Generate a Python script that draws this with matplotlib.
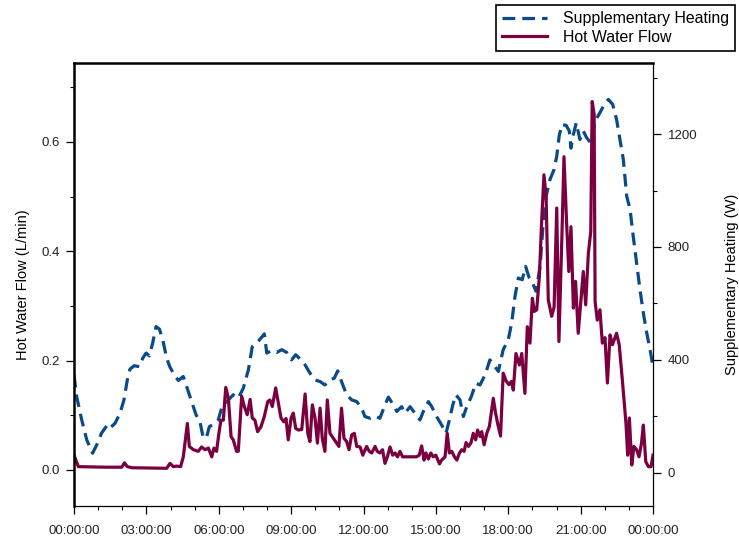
import matplotlib
matplotlib.use("Agg")
import matplotlib.pyplot as plt
from matplotlib.ticker import MultipleLocator, FixedLocator

plt.rcParams['font.family'] = ['Liberation Sans', 'DejaVu Sans']

# Supplementary heating power (W) over the day, hours since midnight
heating_hours = [0, 0.11, 0.32, 0.53, 0.77, 0.94, 1.14, 1.38, 1.49, 1.70, 1.91, 2.07, 2.21, 2.32,
                 2.49, 2.71, 2.85, 2.99, 3.12, 3.26, 3.40, 3.54, 3.68, 3.84, 3.98, 4.19, 4.33, 4.53,
                 4.67, 4.88, 5.06, 5.22, 5.36, 5.50, 5.61, 5.80, 5.98, 6.12, 6.40, 6.60, 6.81, 7.02,
                 7.23, 7.39, 7.57, 7.75, 7.89, 7.99, 8.19, 8.40, 8.61, 8.82, 9.02, 9.19, 9.41, 9.58,
                 9.78, 9.99, 10.20, 10.40, 10.61, 10.79, 10.93, 11.09, 11.30, 11.51, 11.72, 11.92,
                 12.06, 12.27, 12.48, 12.68, 12.89, 13.03, 13.24, 13.38, 13.58, 13.72, 13.93, 14.13,
                 14.34, 14.48, 14.69, 14.83, 15.03, 15.24, 15.42, 15.56, 15.70, 15.83, 16.00, 16.14,
                 16.28, 16.46, 16.66, 16.83, 17.04, 17.24, 17.45, 17.59, 17.79, 18.00, 18.14, 18.28,
                 18.42, 18.58, 18.72, 18.87, 19.01, 19.15, 19.32, 19.43, 19.57, 19.73, 19.90, 20.01,
                 20.11, 20.22, 20.40, 20.53, 20.60, 20.70, 20.82, 20.97, 21.11, 21.25, 21.42, 21.60,
                 21.80, 21.98, 22.15, 22.33, 22.49, 22.63, 22.77, 22.91, 23.05, 23.18, 23.32, 23.46,
                 23.60, 23.74, 23.88, 24.0]
heating_watts = [347, 270, 187, 116, 69, 98, 140, 169, 158, 175, 211, 258, 329, 367,
                 379, 376, 406, 424, 414, 459, 518, 509, 471, 406, 374, 341, 327, 341,
                 305, 252, 205, 181, 122, 128, 163, 173, 187, 229, 258, 276, 264, 300,
                 365, 447, 459, 477, 492, 424, 433, 426, 436, 426, 400, 418, 400, 382,
                 353, 329, 323, 311, 329, 335, 361, 323, 276, 258, 252, 229,
                 199, 193, 201, 193, 240, 268, 240, 217, 234, 211, 234, 211,
                 187, 217, 252, 234, 199, 169, 140, 187, 240, 276, 258, 199,
                 234, 268, 317, 311, 347, 400, 376, 359, 436, 471, 530, 625,
                 690, 684, 731, 690, 672, 643, 731, 862, 980, 1039, 1075, 1122,
                 1193, 1234, 1231, 1211, 1150, 1199, 1240, 1181, 1211, 1187, 1169, 1246,
                 1276, 1305, 1323, 1305, 1252, 1181, 1110, 980, 933, 838, 743, 649,
                 566, 495, 436, 375]

# Hot water flow (L/min) over the day, hours since midnight
flow_hours = [0, 0.18, 1.30, 1.98, 2.09, 2.21, 2.40, 3.84, 3.98, 4.12, 4.26, 4.42, 4.53, 4.70,
              4.78, 4.95, 5.15, 5.29, 5.43, 5.57, 5.71, 5.80, 5.91, 6.00, 6.09, 6.19, 6.29, 6.40,
              6.51, 6.60, 6.74, 6.81, 6.95, 7.06, 7.18, 7.30, 7.39, 7.50, 7.61, 7.75, 7.89, 8.03,
              8.12, 8.22, 8.36, 8.46, 8.58, 8.70, 8.79, 8.88, 9.00, 9.09, 9.19, 9.30, 9.44, 9.58,
              9.69, 9.78, 9.88, 9.99, 10.09, 10.20, 10.29, 10.40, 10.50, 10.61, 10.75, 10.89,
              10.98, 11.09, 11.19, 11.30, 11.40, 11.51, 11.62, 11.72, 11.86, 11.97, 12.13, 12.24,
              12.34, 12.48, 12.57, 12.68, 12.79, 12.89, 12.99, 13.10, 13.21, 13.31, 13.41, 13.51,
              13.62, 13.72, 13.86, 14.06, 14.20, 14.31, 14.41, 14.51, 14.59, 14.69, 14.79, 14.89,
              15.00, 15.15, 15.24, 15.38, 15.47, 15.56, 15.66, 15.77, 15.87, 15.98, 16.07, 16.17,
              16.25, 16.35, 16.45, 16.55, 16.65, 16.73, 16.83, 16.90, 17.00, 17.11, 17.22, 17.38,
              17.47, 17.56, 17.68, 17.79, 17.91, 18.03, 18.13, 18.21, 18.32, 18.46, 18.56, 18.69,
              18.79, 18.90, 19.00, 19.08, 19.18, 19.29, 19.38, 19.48, 19.57, 19.66, 19.80, 19.90,
              20.01, 20.10, 20.22, 20.31, 20.42, 20.51, 20.60, 20.70, 20.79, 20.90, 21.00, 21.11,
              21.21, 21.32, 21.42, 21.48, 21.56, 21.60, 21.69, 21.80, 21.90, 22.01, 22.11, 22.22,
              22.32, 22.49, 22.60, 22.74, 22.88, 22.95, 23.02, 23.12, 23.21, 23.32, 23.42, 23.52,
              23.60, 23.70, 23.81, 23.92, 24.0]
flow_lpm = [0.027, 0.006, 0.005, 0.005, 0.013, 0.006, 0.004, 0.003, 0.012, 0.006, 0.007, 0.006, 0.024, 0.085,
            0.043, 0.037, 0.034, 0.042, 0.037, 0.040, 0.024, 0.040, 0.034, 0.065, 0.091, 0.091, 0.151, 0.131,
            0.061, 0.055, 0.034, 0.034, 0.135, 0.116, 0.101, 0.129, 0.095, 0.091, 0.070, 0.079, 0.098, 0.125,
            0.128, 0.116, 0.150, 0.125, 0.095, 0.088, 0.094, 0.055, 0.095, 0.104, 0.076, 0.073, 0.074, 0.139,
            0.067, 0.052, 0.119, 0.095, 0.049, 0.113, 0.058, 0.034, 0.128, 0.067, 0.058, 0.049,
            0.043, 0.113, 0.058, 0.052, 0.037, 0.064, 0.067, 0.043, 0.042, 0.027, 0.043, 0.034,
            0.031, 0.043, 0.034, 0.031, 0.037, 0.012, 0.024, 0.042, 0.027, 0.031, 0.024, 0.034,
            0.024, 0.024, 0.024, 0.024, 0.024, 0.027, 0.044, 0.018, 0.031, 0.020, 0.031, 0.024,
            0.027, 0.011, 0.018, 0.024, 0.067, 0.031, 0.034, 0.024, 0.018, 0.031, 0.037, 0.034,
            0.050, 0.043, 0.049, 0.067, 0.055, 0.073, 0.061, 0.070, 0.046, 0.067, 0.080, 0.131,
            0.105, 0.085, 0.062, 0.177, 0.163, 0.156, 0.162, 0.146, 0.213, 0.192, 0.213, 0.140,
            0.262, 0.232, 0.314, 0.290, 0.293, 0.354, 0.451, 0.540, 0.500, 0.311, 0.281, 0.298,
            0.479, 0.235, 0.421, 0.573, 0.451, 0.363, 0.445, 0.296, 0.345, 0.250, 0.305, 0.363,
            0.302, 0.396, 0.436, 0.674, 0.650, 0.308, 0.274, 0.293, 0.232, 0.242, 0.159, 0.247,
            0.229, 0.250, 0.229, 0.159, 0.085, 0.027, 0.095, 0.009, 0.043, 0.037, 0.024, 0.048,
            0.082, 0.015, 0.006, 0.006, 0.027]

x_tick_hours = [0, 3, 6, 9, 12, 15, 18, 21, 24]
x_tick_labels = ["00:00:00", "03:00:00", "06:00:00", "09:00:00", "12:00:00",
                 "15:00:00", "18:00:00", "21:00:00", "00:00:00"]
flow_ticks = [0.0, 0.2, 0.4, 0.6]
heating_ticks = [0, 400, 800, 1200]

flow_color = "#7a0040"
heating_color = "#0b4a8a"

fig = plt.figure(figsize=(7.39, 5.37), dpi=100)
ax = fig.add_axes([74 / 739, 1 - 506 / 537, (653 - 74) / 739, (506 - 63) / 537])
ax2 = ax.twinx()

# heating on the right-hand axis, flow drawn on top on the left-hand axis
h_line, = ax2.plot(heating_hours, heating_watts, color=heating_color, lw=2.3,
                   dashes=(4, 2.2), label="Supplementary Heating")
f_line, = ax.plot(flow_hours, flow_lpm, color=flow_color, lw=2.3,
                  solid_joinstyle="round", label="Hot Water Flow")
ax.set_zorder(ax2.get_zorder() + 1)
ax.patch.set_visible(False)

ax.set_xlim(0, 24)
ax.set_ylim(-0.066, 0.7445)
ax2.set_ylim(-118, 1452)

ax.xaxis.set_major_locator(FixedLocator(x_tick_hours))
ax.set_xticklabels(x_tick_labels)
ax.xaxis.set_minor_locator(MultipleLocator(1))
ax.set_yticks(flow_ticks)
ax.set_yticklabels([f"{v:.1f}" for v in flow_ticks])
ax.yaxis.set_minor_locator(MultipleLocator(0.1))
ax2.set_yticks(heating_ticks)
ax2.set_yticklabels([str(v) for v in heating_ticks])
ax2.yaxis.set_minor_locator(MultipleLocator(200))

for a in (ax, ax2):
    a.tick_params(which="major", length=5.5, width=0.9, labelsize=9.5, labelcolor="#222222", pad=5)
    a.tick_params(which="minor", length=3.2, width=0.8)
ax.tick_params(axis="x", which="major", pad=8)

ax.spines["left"].set_linewidth(1.8)
ax.spines["top"].set_linewidth(1.8)
ax.spines["bottom"].set_linewidth(0.9)
ax.spines["right"].set_visible(False)
ax2.spines["right"].set_linewidth(0.9)
ax2.spines["left"].set_visible(False)
ax2.spines["top"].set_visible(False)
ax2.spines["bottom"].set_visible(False)

ax.set_ylabel("Hot Water Flow (L/min)", fontsize=10.5, labelpad=8)
ax2.set_ylabel("Supplementary Heating (W)", fontsize=10.5, labelpad=20)

leg = fig.legend(handles=[h_line, f_line], loc="upper right",
                 bbox_to_anchor=(735 / 739, 1 - 5 / 537), fontsize=11.4,
                 frameon=True, fancybox=False, edgecolor="black", framealpha=1,
                 handlelength=2.8, handletextpad=1.0, borderpad=0.4,
                 labelspacing=0.2, borderaxespad=0)
leg.get_frame().set_linewidth(1.2)

fig.savefig("out.png", dpi=100)
